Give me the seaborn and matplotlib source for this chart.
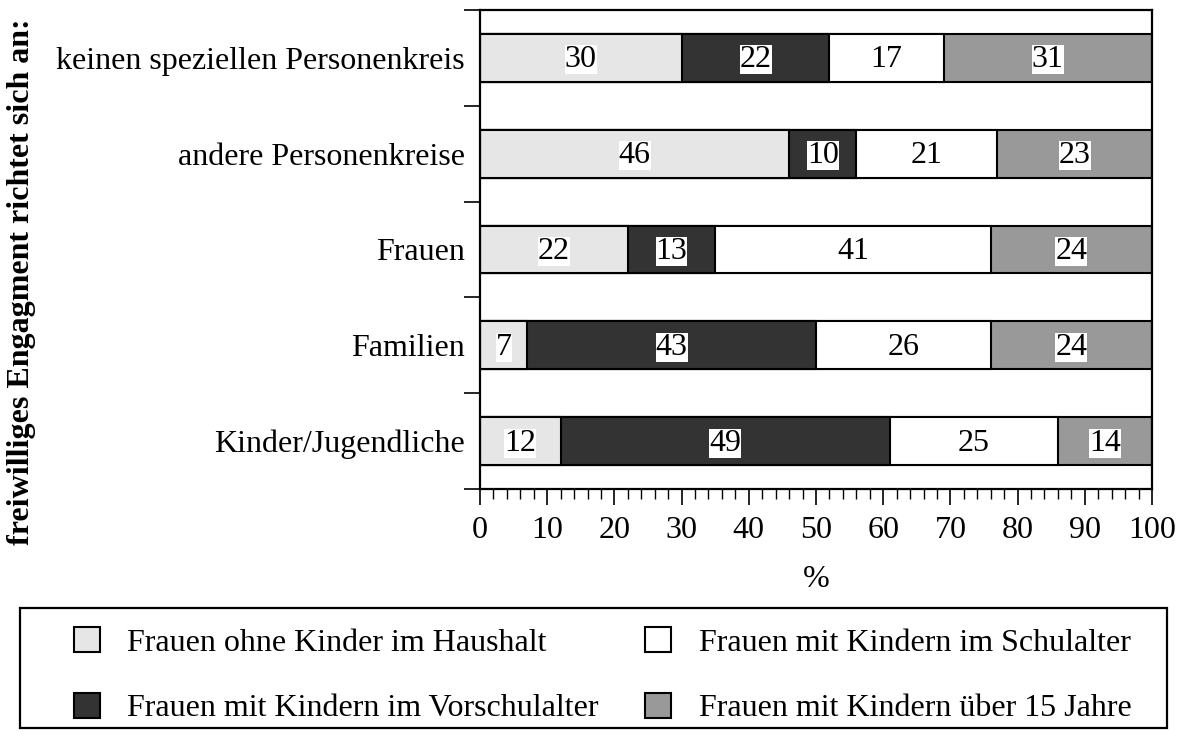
import numpy as np
import pandas as pd
import matplotlib
matplotlib.use('Agg')
import matplotlib.pyplot as plt
import seaborn as sns
from matplotlib.patches import Patch, Rectangle
from matplotlib.ticker import MultipleLocator, FixedLocator

# Data (percent per target group)
categories = ['keinen speziellen Personenkreis', 'andere Personenkreise', 'Frauen',
              'Familien', 'Kinder/Jugendliche']
series_names = ['Frauen ohne Kinder im Haushalt', 'Frauen mit Kindern im Vorschulalter',
                'Frauen mit Kindern im Schulalter', 'Frauen mit Kindern über 15 Jahre']
ohne_kinder = [30, 46, 22, 7, 12]
vorschulalter = [22, 10, 13, 43, 49]
schulalter = [17, 21, 41, 26, 25]
ueber_15 = [31, 23, 24, 24, 14]
colors = ['#e6e6e6', '#333333', '#ffffff', '#999999']

values = [ohne_kinder, vorschulalter, schulalter, ueber_15]
FS = 23

sns.set_style('white')
plt.rcParams['font.family'] = ['Liberation Serif', 'DejaVu Serif']
plt.rcParams['font.size'] = FS
plt.rcParams['text.color'] = 'black'
plt.rcParams['axes.labelcolor'] = 'black'
plt.rcParams['xtick.color'] = 'black'
plt.rcParams['ytick.color'] = 'black'

fig = plt.figure(figsize=(11.84, 7.36), dpi=100)
ax = fig.add_axes([480 / 1184, 1 - 489 / 736, 672 / 1184, 479 / 736])

# stacked bars: draw cumulative sums, largest first
df = pd.DataFrame({'kategorie': categories})
cum = np.zeros(len(categories))
cums = []
for v in values:
    cum = cum + np.array(v)
    cums.append(cum.copy())
for i in reversed(range(len(values))):
    df['cum'] = cums[i]
    sns.barplot(data=df, x='cum', y='kategorie', orient='h', color=colors[i],
                saturation=1, width=0.5, edgecolor='black', linewidth=1.5, ax=ax)

# value labels with white boxes
for i, v in enumerate(values):
    left = cums[i] - np.array(v)
    for j, val in enumerate(v):
        ax.text(left[j] + val / 2, j + 0.02, str(val), ha='center', va='center',
                fontsize=FS, color='black',
                bbox=dict(facecolor='white', edgecolor='none', pad=0))

ax.set_xlim(0, 100)
ax.set_ylim(len(categories) - 0.5, -0.5)
ax.xaxis.set_major_locator(MultipleLocator(10))
ax.xaxis.set_minor_locator(MultipleLocator(2))
ax.tick_params(axis='x', which='major', direction='out', length=11.5, width=1.2,
               bottom=True, labelsize=FS, pad=8)
ax.tick_params(axis='x', which='minor', direction='out', length=7, width=1, bottom=True)

# y: ticks at category boundaries, labels at centers
ax.yaxis.set_major_locator(FixedLocator(np.arange(-0.5, len(categories), 1.0)))
ax.yaxis.set_minor_locator(FixedLocator(np.arange(len(categories))))
ax.set_yticklabels([], minor=False)
ax.set_yticklabels(categories, minor=True)
ax.tick_params(axis='y', which='major', direction='out', length=11.5, width=1.2, left=True)
ax.tick_params(axis='y', which='minor', length=0, labelsize=FS, pad=11)

ax.set_xlabel('%', fontsize=FS, labelpad=14)
ax.set_ylabel('')
for s in ax.spines.values():
    s.set_color('black')
    s.set_linewidth(1.6)

fig.text(22 / 1184, 1 - 282 / 736, 'freiwilliges Engagment richtet sich an:', rotation=90,
         ha='center', va='center', fontsize=FS, fontweight='bold')

# legend frame drawn separately, entries placed inside
fig.patches.append(Rectangle((20 / 1184, 1 - 728 / 736), 1147 / 1184, 120 / 736,
                             transform=fig.transFigure, facecolor='white',
                             edgecolor='black', linewidth=1.6, zorder=0))
handles = [Patch(facecolor=c, edgecolor='black', linewidth=1.5) for c in colors]
leg = fig.legend(handles, series_names, loc='upper left', ncol=2,
                 bbox_to_anchor=(74 / 1184, 1 - 627 / 736),
                 frameon=False, fontsize=FS,
                 handlelength=0.82, handleheight=0.82, handletextpad=0.85,
                 labelspacing=1.1, borderpad=0, borderaxespad=0, columnspacing=1.45)

fig.savefig('out.png', dpi=100)
